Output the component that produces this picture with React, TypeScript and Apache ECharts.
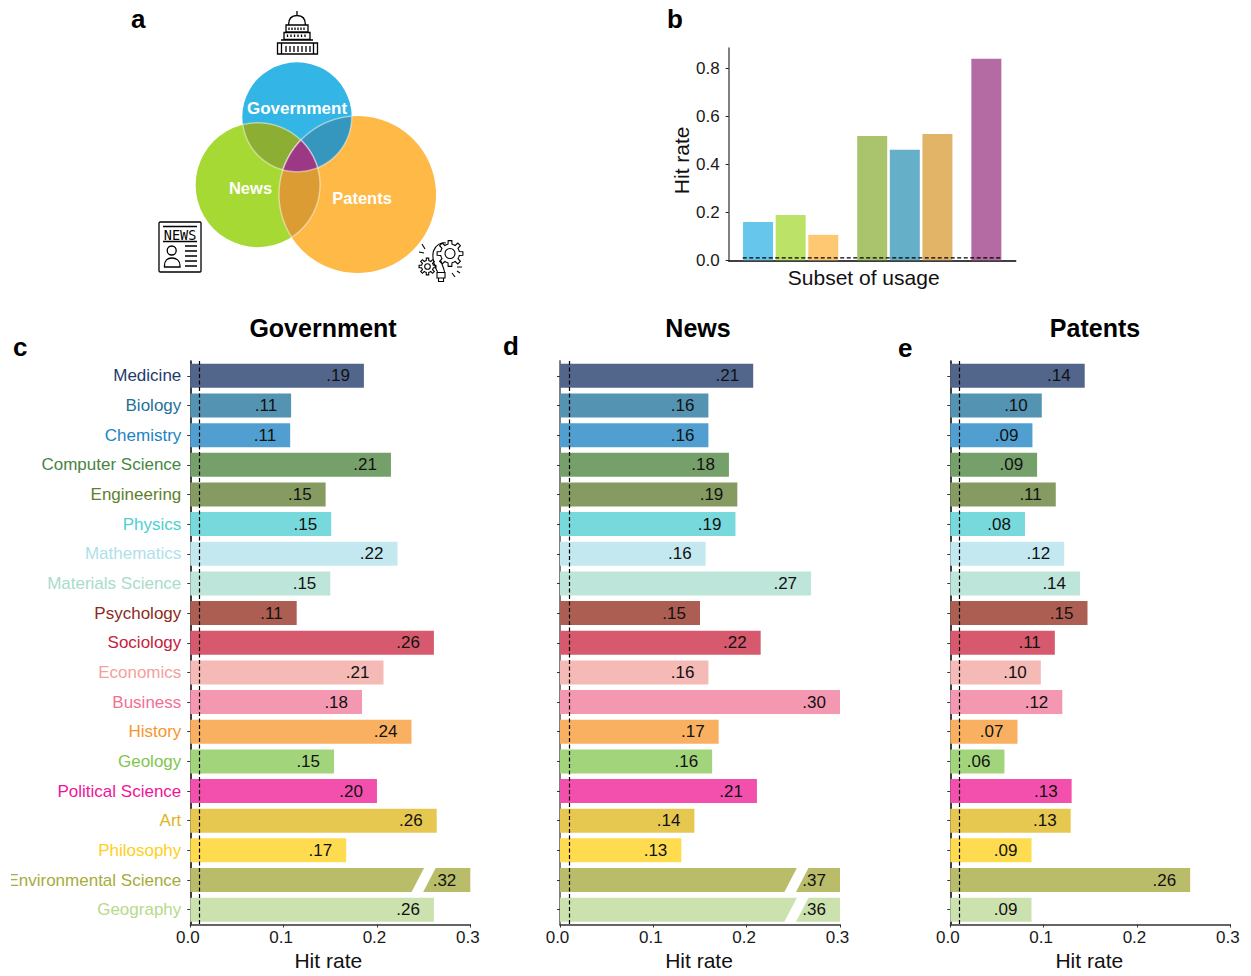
import React, { useEffect, useRef } from "react";
import * as echarts from "echarts";

const FONT = "Liberation Sans";

const categories = ["Medicine","Biology","Chemistry","Computer Science","Engineering","Physics","Mathematics","Materials Science","Psychology","Sociology","Economics","Business","History","Geology","Political Science","Art","Philosophy","Environmental Science","Geography"];
const barColors = ["#52658B","#5493B1","#509FD0","#76A069","#859B62","#77D9DC","#C4E8F0","#BEE5DA","#AD5E52","#D6596D","#F5B9B6","#F497B0","#F9B161","#A2D57B","#F350AE","#E6C850","#FFDC4F","#B9BD69","#CBE2AF"];
const labelColors = ["#1F3A6B","#1F7199","#1C83C4","#478544","#5F7F2E","#4FCFD2","#AEDFEB","#A8DCCB","#8C2A1C","#C4223E","#F4A09B","#F26F94","#F7952E","#7FC650","#F0149A","#E0B41C","#FFCF1A","#A7AC3C","#B8D98B"];

const govValues = [0.186,0.108,0.107,0.215,0.145,0.151,0.222,0.150,0.114,0.261,0.207,0.184,0.237,0.154,0.200,0.264,0.167,0.32,0.261];
const newsValues = [0.207,0.159,0.159,0.181,0.190,0.188,0.156,0.269,0.150,0.215,0.159,0.30,0.170,0.163,0.211,0.144,0.130,0.37,0.36];
const patValues = [0.144,0.098,0.088,0.093,0.113,0.080,0.122,0.139,0.147,0.112,0.097,0.120,0.072,0.058,0.130,0.129,0.087,0.257,0.087];

const govLabels = [".19",".11",".11",".21",".15",".15",".22",".15",".11",".26",".21",".18",".24",".15",".20",".26",".17",".32",".26"];
const newsLabels = [".21",".16",".16",".18",".19",".19",".16",".27",".15",".22",".16",".30",".17",".16",".21",".14",".13",".37",".36"];
const patLabels = [".14",".10",".09",".09",".11",".08",".12",".14",".15",".11",".10",".12",".07",".06",".13",".13",".09",".26",".09"];

const govBreaks = [[0.25, 17]];
const newsBreaks = [[0.2533, 17], [0.2533, 18]];
const patBreaks: number[][] = [];

const hitTicks = ["0.0","0.1","0.2","0.3"];
const baselineRate = 0.01;

const subsetX = [0,1,2,3.5,4.5,5.5,7];
const subsetValues = [0.16,0.189,0.106,0.518,0.46,0.526,0.839];
const subsetColors = ["#66C6EB","#BCE368","#FEC873","#A9C46C","#66AFC9","#E2B468","#B46BA4"];
const subsetTicks = [0,0.2,0.4,0.6,0.8];
const baselineX = [-0.47,7.47];

const vennCircles = [
  { name: "Government", cx: 297, cy: 117, r: 54.7, color: "#33B5E5" },
  { name: "News", cx: 257.8, cy: 185, r: 62.2, color: "#A6D933" },
  { name: "Patents", cx: 357.5, cy: 194.5, r: 78.5, color: "#FFB947" },
];

function regionPoints(idx: number[]) {
  const cs = idx.map((i) => vennCircles[i]);
  const pts: number[][] = [];
  cs.forEach((c) => {
    for (let a = 0; a < 1440; a++) {
      const t = (a / 1440) * 2 * Math.PI;
      const x = c.cx + c.r * Math.cos(t);
      const y = c.cy + c.r * Math.sin(t);
      if (cs.every((o) => Math.hypot(x - o.cx, y - o.cy) <= o.r + 0.001)) pts.push([x, y]);
    }
  });
  const mx = pts.reduce((s, p) => s + p[0], 0) / pts.length;
  const my = pts.reduce((s, p) => s + p[1], 0) / pts.length;
  pts.sort((a, b) => Math.atan2(a[1] - my, a[0] - mx) - Math.atan2(b[1] - my, b[0] - mx));
  return pts;
}

function gearPath(cx: number, cy: number, rOut: number, rIn: number, teeth: number) {
  let d = "";
  const step = (2 * Math.PI) / teeth;
  for (let i = 0; i < teeth; i++) {
    const a = i * step;
    const seq: [number, number][] = [
      [rIn, a - step * 0.5], [rIn, a - step * 0.27], [rOut, a - step * 0.18], [rOut, a + step * 0.18], [rIn, a + step * 0.27],
    ];
    seq.forEach(([r, t], j) => {
      const x = (cx + r * Math.cos(t)).toFixed(2);
      const y = (cy + r * Math.sin(t)).toFixed(2);
      d += (i === 0 && j === 0 ? "M" : "L") + x + " " + y + " ";
    });
  }
  return d + "Z ";
}

function circlePath(cx: number, cy: number, r: number) {
  return `M${cx - r} ${cy} A${r} ${r} 0 1 1 ${cx + r} ${cy} A${r} ${r} 0 1 1 ${cx - r} ${cy} Z `;
}

const capitolD =
  "M297 11 V16 M288.5 25 C288.5 18.5 292 15.5 297 15.5 C302 15.5 305.5 18.5 305.5 25 " +
  "M286 25 H308 V32 H286 Z M284 32.5 H310 V39.5 H284 Z M281 40 H313 M277.5 43 H317.5 V54 H277.5 Z M281.5 43 V54 M313.5 43 V54 " +
  "M289 27.5 V30 M292 27.5 V30 M295 27.5 V30 M298 27.5 V30 M301 27.5 V30 M304 27.5 V30 " +
  "M287.5 34.5 V37 M291 34.5 V37 M294.5 34.5 V37 M298 34.5 V37 M301.5 34.5 V37 M305 34.5 V37 " +
  "M286 46 V52 M290 46 V52 M294 46 V52 M298 46 V52 M302 46 V52 M306 46 V52 M310 46 V52";

const newsD =
  "M160.5 222 H200 Q201 222 201 223 V271 Q201 272 200 272 H160.5 Q159 272 159 271 V223 Q159 222 160.5 222 Z " +
  "M163 226.5 H197 M163 241.5 H197 M185 246 H197 M185 251 H197 M185 256 H197 M185 261 H197 M185 266 H197 " +
  circlePath(171.7, 250.5, 4.5) +
  "M164.5 267 C164 260 168 258 171.7 258 C176 258 180.5 260 180 267 Z";

const ideaD =
  gearPath(450, 253.5, 13, 9.5, 8) + circlePath(450, 253.5, 5) +
  gearPath(427.5, 266.5, 8.5, 6, 8) + circlePath(427.5, 266.5, 2.8) +
  "M437.5 272 C434 265 431.5 258 433.5 251 C435.5 245 441 242 446 243 " +
  "M444.5 272 C444 268 442 265 441 261 " +
  "M437 272.5 H445 V278 H437 Z M438.5 278 V281.5 H443.5 V278 " +
  "M422 244 L425 249 M419 252 L424 253 M455 277 L452 273 M460 273 L457 271 M462 267 L457 267";

echarts.graphic.registerShape("capitolIcon", echarts.graphic.extendPath(capitolD, {}));
echarts.graphic.registerShape("newsIcon", echarts.graphic.extendPath(newsD, {}));
echarts.graphic.registerShape("ideaIcon", echarts.graphic.extendPath(ideaD, {}));

const panels = [
  { left: 190.3, values: govValues, labels: govLabels, breaks: govBreaks, showCats: true, axisColor: "#000", axisWidth: 1.5 },
  { left: 560, values: newsValues, labels: newsLabels, breaks: newsBreaks, showCats: false, axisColor: "#808080", axisWidth: 2 },
  { left: 950.3, values: patValues, labels: patLabels, breaks: patBreaks, showCats: false, axisColor: "#000", axisWidth: 1.5 },
];
const nameShift = [4, 2, 2];

function buildOption() {
  const grid: any[] = [];
  const xAxis: any[] = [];
  const yAxis: any[] = [];
  const series: any[] = [];

  panels.forEach((p, i) => {
    grid.push({ left: p.left, top: 361, width: 280, height: 563.5, containLabel: false, outerBoundsMode: "none" });
    xAxis.push({
      type: "value", gridIndex: i, min: 0, max: 0.3, interval: 0.1, position: "bottom",
      splitLine: { show: false },
      axisLine: { show: true, lineStyle: { color: "#333", width: 1.5 } },
      axisTick: { show: true, length: 3, lineStyle: { color: "#333", width: 1 } },
      axisLabel: {
        show: true, margin: 4, fontFamily: FONT, fontSize: 17, color: "#1a1a1a", padding: [0, 5, 0, 0],
        hideOverlap: false, showMinLabel: true, showMaxLabel: true,
        formatter: (_v: number, idx: number) => hitTicks[idx],
      },
      name: "Hit rate", nameLocation: "middle", nameGap: 25,
      nameTextStyle: { fontFamily: FONT, fontSize: 21, color: "#111", padding: [0, nameShift[i], 0, 0] },
    });
    yAxis.push({
      type: "category", gridIndex: i, inverse: true,
      data: categories.map((c, k) => ({ value: c, textStyle: { color: labelColors[k] } })),
      axisLine: { show: true, onZero: false, lineStyle: { color: p.axisColor, width: p.axisWidth } },
      axisTick: { show: true, length: 3, alignWithLabel: true, lineStyle: { color: "#333", width: 1 } },
      axisLabel: { show: p.showCats, margin: 9, padding: [2, 0, 0, 0], fontFamily: FONT, fontSize: 17, interval: 0 },
      splitLine: { show: false },
    });
    series.push({
      type: "bar", xAxisIndex: i, yAxisIndex: i, barWidth: 24,
      data: p.values.map((v, k) => ({ value: v, itemStyle: { color: barColors[k] } })),
      label: {
        show: true, position: "insideRight", distance: 14, fontFamily: FONT, fontSize: 17, color: "#111",
        formatter: (d: any) => p.labels[d.dataIndex],
      },
      markLine: {
        silent: true, symbol: "none", animation: false, label: { show: false },
        lineStyle: { color: "#000", type: [4, 2.5], width: 1.2 },
        data: [{ xAxis: baselineRate }],
      },
    });
    series.push({
      type: "custom", xAxisIndex: i, yAxisIndex: i, z: 3, silent: true,
      encode: { x: 0, y: 1 },
      data: p.breaks,
      renderItem: (_params: any, api: any) => {
        const c = api.coord([api.value(0), api.value(1)]);
        const h = 12.5;
        const skew = 6.5;
        const half = 5.8;
        return {
          type: "polygon",
          shape: { points: [[c[0] - skew - half, c[1] + h], [c[0] - skew + half, c[1] + h], [c[0] + skew + half, c[1] - h], [c[0] + skew - half, c[1] - h]] },
          style: { fill: "#fff" },
        };
      },
    });
  });

  grid.push({ left: 728.7, top: 48.3, width: 287, height: 212, outerBoundsMode: "none" });
  xAxis.push({
    type: "value", gridIndex: 3, min: -0.9, max: 7.9,
    splitLine: { show: false },
    axisLine: { show: true, onZero: false, lineStyle: { color: "#000", width: 1.5 } },
    axisTick: { show: false }, axisLabel: { show: false },
    name: "Subset of usage", nameLocation: "middle", nameGap: 7,
    nameTextStyle: { fontFamily: FONT, fontSize: 21, color: "#111", padding: [0, 17, 0, 0] },
  });
  yAxis.push({
    type: "value", gridIndex: 3, min: 0, max: 0.883,
    splitLine: { show: false },
    axisLine: { show: true, onZero: false, lineStyle: { color: "#808080", width: 2 } },
    axisTick: { show: true, length: 3, customValues: subsetTicks, lineStyle: { color: "#222", width: 1 } },
    axisLabel: {
      show: true, margin: 9, fontFamily: FONT, fontSize: 17, color: "#1a1a1a",
      customValues: subsetTicks, formatter: (v: number) => v.toFixed(1),
    },
    name: "Hit rate", nameLocation: "middle", nameGap: 37,
    nameTextStyle: { fontFamily: FONT, fontSize: 21, color: "#111", padding: [0, 12, 0, 0] },
  });
  series.push({
    type: "bar", xAxisIndex: 3, yAxisIndex: 3, barWidth: 30,
    data: subsetX.map((x, k) => ({ value: [x, subsetValues[k]], itemStyle: { color: subsetColors[k] } })),
  });
  series.push({
    type: "line", xAxisIndex: 3, yAxisIndex: 3, symbol: "none", silent: true, z: 4,
    lineStyle: { color: "#000", type: [4, 2.5], width: 1.2 },
    data: baselineX.map((x) => [x, baselineRate]),
  });

  const venn: any[] = vennCircles.map((c) => ({
    type: "circle", shape: { cx: c.cx, cy: c.cy, r: c.r }, style: { fill: c.color },
  }));
  const regions = [
    { idx: [0, 1], color: "#8BAE33" },
    { idx: [0, 2], color: "#3596BE" },
    { idx: [1, 2], color: "#DB9C33" },
    { idx: [0, 1, 2], color: "#9C3885" },
  ];
  regions.forEach((r) => {
    venn.push({
      type: "polygon", z: 1, shape: { points: regionPoints(r.idx) },
      style: { fill: r.color, stroke: "rgba(255,255,255,0.45)", lineWidth: 1.5 },
    });
  });
  const vennText = [
    { t: "Government", x: 297, y: 100, s: 17 },
    { t: "News", x: 250.5, y: 179, s: 16.5 },
    { t: "Patents", x: 362, y: 189, s: 16.5 },
  ];
  vennText.forEach((v) => {
    venn.push({
      type: "text", z: 2, x: v.x, y: v.y,
      style: { text: v.t, fill: "#fff", font: `bold ${v.s}px "${FONT}"`, textAlign: "center" },
    });
  });
  const letters = [
    { t: "a", x: 131, y: 6 },
    { t: "b", x: 667, y: 6 },
    { t: "c", x: 13, y: 334 },
    { t: "d", x: 503, y: 333 },
    { t: "e", x: 898, y: 335 },
  ];
  letters.forEach((l) => {
    venn.push({
      type: "text", z: 2, x: l.x, y: l.y,
      style: { text: l.t, fill: "#000", font: `bold 26px "${FONT}"`, textAlign: "left" },
    });
  });
  const iconStyle = { fill: "none", stroke: "#000", lineWidth: 1.3 };
  venn.push({ type: "capitolIcon", z: 2, x: 0, y: 0, style: iconStyle });
  venn.push({ type: "newsIcon", z: 2, x: 0, y: 0, style: iconStyle });
  venn.push({ type: "ideaIcon", z: 2, x: 0, y: 0, style: { fill: "none", stroke: "#000", lineWidth: 1.1 } });
  venn.push({
    type: "text", z: 2, x: 180, y: 227.5,
    style: { text: "NEWS", fill: "#000", font: `13.5px "DejaVu Sans Mono"`, textAlign: "center" },
  });
  venn.push({ type: "rect", z: 100, shape: { x: 0, y: 868, width: 11, height: 26 }, style: { fill: "#fff" } });

  const titles = [
    { text: "Government", left: 323 },
    { text: "News", left: 698 },
    { text: "Patents", left: 1095 },
  ].map((t) => ({
    text: t.text, left: t.left, top: 315, padding: 0, textAlign: "center",
    textStyle: { fontFamily: FONT, fontSize: 25, fontWeight: "bold", color: "#000" },
  }));

  return {
    animation: false, backgroundColor: "#fff",
    textStyle: { fontFamily: FONT },
    title: titles, grid, xAxis, yAxis, series,
    graphic: { z: 50, elements: venn },
  };
}

export default function App() {
  const ref = useRef<HTMLDivElement>(null);
  useEffect(() => {
    const chart = echarts.init(ref.current!, undefined, { renderer: "svg" });
    chart.setOption(buildOption() as any);
    return () => chart.dispose();
  }, []);
  return <div ref={ref} style={{ position: "absolute", left: 0, top: 0, width: 1251, height: 976 }} />;
}
